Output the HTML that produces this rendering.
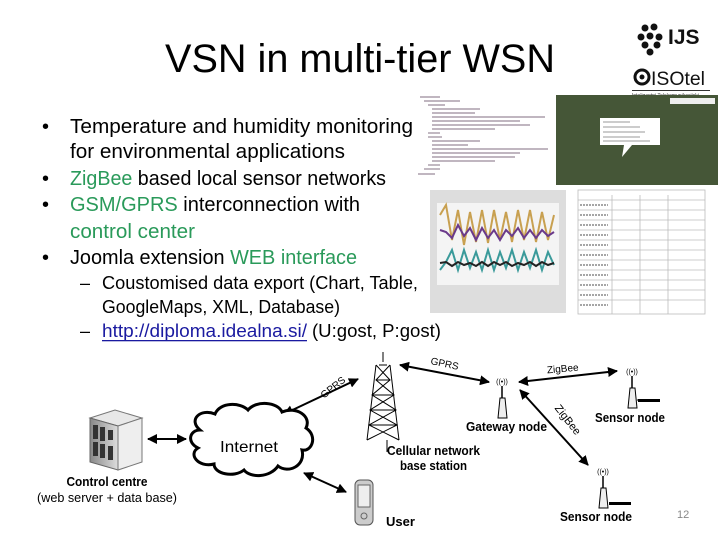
<!DOCTYPE html>
<html><head><meta charset="utf-8"><style>
html,body{margin:0;padding:0;background:#fff;}
svg{display:block;}
text{font-family:"Liberation Sans",sans-serif;}
</style></head><body>
<svg width="720" height="540" viewBox="0 0 720 540" xmlns="http://www.w3.org/2000/svg">
<defs>
<marker id="ah" viewBox="0 0 10 10" refX="9" refY="5" markerWidth="5" markerHeight="5" orient="auto-start-reverse"><path d="M0,0 L10,5 L0,10 z" fill="#000"/></marker>
<linearGradient id="srv" x1="0" x2="1"><stop offset="0" stop-color="#888"/><stop offset="1" stop-color="#ddd"/></linearGradient>
</defs>
<rect width="720" height="540" fill="#fff"/>
<!-- title -->
<text x="165" y="72" font-size="40" textLength="390" lengthAdjust="spacingAndGlyphs" fill="#000">VSN in multi-tier WSN</text>
<!-- logos -->
<g fill="#111">
<circle cx="645" cy="28" r="3.5"/><circle cx="654" cy="27" r="3.5"/>
<circle cx="641" cy="37" r="3.5"/><circle cx="650" cy="36" r="3.5"/><circle cx="659" cy="37" r="3.5"/>
<circle cx="645" cy="45" r="3.5"/><circle cx="657" cy="45" r="3.5"/><circle cx="650" cy="52" r="3.5"/>
</g>
<text x="668" y="44" font-size="21" font-weight="bold" fill="#111">IJS</text>
<circle cx="642" cy="77" r="7" fill="none" stroke="#111" stroke-width="3"/><circle cx="642" cy="77" r="2.5" fill="#111"/>
<text x="651" y="85" font-size="19" fill="#111" textLength="54" lengthAdjust="spacingAndGlyphs">ISOtel</text>
<rect x="632" y="90" width="78" height="1" fill="#333"/>
<text x="632" y="97" font-size="5" fill="#333">Inteligentni Telekomunikacijski</text>
<!-- bullets -->
<g font-size="20" fill="#000">
<text x="42" y="133">•</text><text x="42" y="185">•</text><text x="42" y="211">•</text><text x="42" y="264">•</text>
<text x="70" y="133" textLength="343" lengthAdjust="spacingAndGlyphs">Temperature and humidity monitoring</text>
<text x="70" y="158" textLength="275" lengthAdjust="spacingAndGlyphs">for environmental applications</text>
<text x="70" y="185" textLength="316" lengthAdjust="spacingAndGlyphs"><tspan fill="#2a9a5a">ZigBee</tspan> based local sensor networks</text>
<text x="70" y="211" textLength="290" lengthAdjust="spacingAndGlyphs"><tspan fill="#2a9a5a">GSM/GPRS</tspan> interconnection with</text>
<text x="70" y="238" textLength="125" lengthAdjust="spacingAndGlyphs" fill="#2a9a5a">control center</text>
<text x="70" y="264" textLength="287" lengthAdjust="spacingAndGlyphs">Joomla extension <tspan fill="#2a9a5a">WEB interface</tspan></text>
</g>
<g font-size="18" fill="#000">
<text x="80" y="289">–</text><text x="80" y="337">–</text>
<text x="102" y="289" textLength="316" lengthAdjust="spacingAndGlyphs">Coustomised data export (Chart, Table,</text>
<text x="102" y="313" textLength="238" lengthAdjust="spacingAndGlyphs">GoogleMaps, XML, Database)</text>
<text x="102" y="337" textLength="205" lengthAdjust="spacingAndGlyphs" fill="#1a1aa0">http://diploma.idealna.si/</text>
<rect x="102" y="340" width="205" height="1.3" fill="#1a1aa0"/>
<text x="312" y="337" textLength="129" lengthAdjust="spacingAndGlyphs">(U:gost, P:gost)</text>
</g>
<!-- XML image -->
<g stroke="#9a8a9a" stroke-width="1.2">
<line x1="420" y1="97" x2="440" y2="97"/><line x1="424" y1="101" x2="460" y2="101"/><line x1="428" y1="105" x2="445" y2="105"/>
<line x1="432" y1="109" x2="480" y2="109"/><line x1="432" y1="113" x2="475" y2="113"/><line x1="432" y1="117" x2="545" y2="117"/>
<line x1="432" y1="121" x2="520" y2="121"/><line x1="432" y1="125" x2="530" y2="125"/><line x1="432" y1="129" x2="495" y2="129"/>
<line x1="428" y1="133" x2="440" y2="133"/><line x1="428" y1="137" x2="442" y2="137"/><line x1="432" y1="141" x2="480" y2="141"/>
<line x1="432" y1="145" x2="468" y2="145"/><line x1="432" y1="149" x2="548" y2="149"/><line x1="432" y1="153" x2="520" y2="153"/>
<line x1="432" y1="157" x2="515" y2="157"/><line x1="432" y1="161" x2="495" y2="161"/><line x1="428" y1="165" x2="440" y2="165"/>
<line x1="424" y1="169" x2="440" y2="169"/><line x1="418" y1="174" x2="435" y2="174"/>
</g>
<!-- map -->
<rect x="556" y="95" width="162" height="90" fill="#4d5e3c"/>
<rect x="556" y="95" width="162" height="90" fill="#3a4a30" opacity="0.4"/>
<path d="M600,118 h60 v27 h-28 l-10,12 l2,-12 h-24 z" fill="#fff"/>
<g stroke="#999" stroke-width="1"><line x1="603" y1="122" x2="630" y2="122"/><line x1="603" y1="127" x2="640" y2="127"/><line x1="603" y1="132" x2="645" y2="132"/><line x1="603" y1="137" x2="640" y2="137"/><line x1="603" y1="141" x2="650" y2="141"/></g>
<rect x="670" y="98" width="45" height="6" fill="#eee"/>
<!-- chart -->
<rect x="430" y="190" width="136" height="123" fill="#ddd"/>
<rect x="437" y="203" width="122" height="82" fill="#f4f4f4"/>
<polyline fill="none" stroke="#c8a050" stroke-width="2" points="440,215 446,205 452,240 458,210 464,245 470,212 476,242 482,210 488,243 494,210 500,240 506,212 512,242 518,210 524,240 530,210 536,242 542,212 548,240 554,215"/>
<polyline fill="none" stroke="#6a3a8a" stroke-width="2" points="440,230 446,232 452,238 458,225 464,236 470,228 476,240 482,228 488,238 494,230 500,240 506,230 512,236 518,228 524,238 530,230 536,238 542,230 548,236 554,232"/>
<polyline fill="none" stroke="#3a9a9a" stroke-width="2" points="440,270 446,262 452,250 458,270 464,250 470,268 476,252 482,270 488,250 494,270 500,252 506,268 512,250 518,270 524,252 530,268 536,250 542,270 548,252 554,265"/>
<polyline fill="none" stroke="#222" stroke-width="2" points="440,263 446,262 452,266 458,262 464,265 470,263 476,266 482,262 488,266 494,262 500,265 506,262 512,266 518,263 524,265 530,262 536,266 542,262 548,265 554,263"/>
<!-- table -->
<g stroke="#bbb" stroke-width="0.8">
<rect x="578" y="190" width="127" height="124" fill="#fff"/>
<line x1="578" y1="200" x2="705" y2="200"/><line x1="578" y1="210" x2="705" y2="210"/><line x1="578" y1="220" x2="705" y2="220"/>
<line x1="578" y1="230" x2="705" y2="230"/><line x1="578" y1="240" x2="705" y2="240"/><line x1="578" y1="250" x2="705" y2="250"/>
<line x1="578" y1="260" x2="705" y2="260"/><line x1="578" y1="270" x2="705" y2="270"/><line x1="578" y1="280" x2="705" y2="280"/>
<line x1="578" y1="290" x2="705" y2="290"/><line x1="578" y1="300" x2="705" y2="300"/>
<line x1="612" y1="195" x2="612" y2="314"/><line x1="640" y1="195" x2="640" y2="314"/><line x1="668" y1="195" x2="668" y2="314"/>
</g>
<g stroke="#888" stroke-width="1.5" stroke-dasharray="2 1">
<line x1="580" y1="205" x2="608" y2="205"/><line x1="580" y1="215" x2="608" y2="215"/><line x1="580" y1="225" x2="608" y2="225"/><line x1="580" y1="235" x2="608" y2="235"/><line x1="580" y1="245" x2="608" y2="245"/><line x1="580" y1="255" x2="608" y2="255"/><line x1="580" y1="265" x2="608" y2="265"/><line x1="580" y1="275" x2="608" y2="275"/><line x1="580" y1="285" x2="608" y2="285"/><line x1="580" y1="295" x2="608" y2="295"/><line x1="580" y1="305" x2="608" y2="305"/>
</g>
<!-- diagram: server -->
<polygon points="90,418 115,410 142,418 118,426" fill="#e8e8e8" stroke="#777"/>
<polygon points="90,418 118,426 118,470 90,462" fill="url(#srv)" stroke="#666"/>
<polygon points="118,426 142,418 142,462 118,470" fill="#eee" stroke="#777"/>
<g fill="#333"><rect x="93" y="425" width="5" height="14"/><rect x="100" y="427" width="5" height="14"/><rect x="108" y="430" width="5" height="10"/>
<rect x="93" y="442" width="5" height="14"/><rect x="100" y="444" width="5" height="14"/><rect x="108" y="446" width="5" height="14"/></g>
<text x="107" y="486" font-size="13" font-weight="bold" text-anchor="middle" textLength="81" lengthAdjust="spacingAndGlyphs">Control centre</text>
<text x="107" y="502" font-size="13" text-anchor="middle" textLength="140" lengthAdjust="spacingAndGlyphs">(web server + data base)</text>
<!-- arrows -->
<g stroke="#000" stroke-width="2" fill="none" marker-start="url(#ah)" marker-end="url(#ah)">
<line x1="148" y1="439" x2="186" y2="439"/>
<line x1="284" y1="414" x2="358" y2="379"/>
<line x1="304" y1="473" x2="346" y2="492"/>
<line x1="400" y1="365" x2="489" y2="382"/>
<line x1="519" y1="382" x2="617" y2="371"/>
<line x1="520" y1="390" x2="588" y2="465"/>
</g>
<!-- cloud -->
<path d="M200,430 C188,420 200,408 215,414 C220,402 240,402 248,410 C256,400 278,402 282,412 C296,406 312,416 306,428 C318,436 312,452 302,450 C306,466 288,474 278,466 C270,478 250,478 244,470 C234,478 214,474 214,464 C198,468 188,454 198,448 C186,442 190,430 200,430 Z" fill="#fff" stroke="#000" stroke-width="3"/>
<text x="249" y="452" font-size="16" text-anchor="middle" textLength="58" lengthAdjust="spacingAndGlyphs">Internet</text>
<text transform="translate(335,390) rotate(-38)" font-size="10" text-anchor="middle">GPRS</text>
<!-- tower -->
<g stroke="#000" stroke-width="1" fill="none">
<line x1="383" y1="352" x2="383" y2="362"/>
<polyline points="376,365 367,440"/><polyline points="390,365 399,440"/>
<line x1="379" y1="365" x2="387" y2="365"/>
<path d="M376,365 L390,380 L372,395 L396,410 L369,425 L399,440 M390,365 L376,380 L394,395 L370,410 L397,425 L367,440"/>
<line x1="376" y1="380" x2="390" y2="380"/><line x1="372" y1="395" x2="394" y2="395"/><line x1="370" y1="410" x2="396" y2="410"/><line x1="369" y1="425" x2="397" y2="425"/>
<line x1="387" y1="440" x2="387" y2="452"/>
</g>
<text x="387" y="455" font-size="13" font-weight="bold" textLength="93" lengthAdjust="spacingAndGlyphs">Cellular network</text>
<text x="400" y="470" font-size="13" font-weight="bold" textLength="67" lengthAdjust="spacingAndGlyphs">base station</text>
<text transform="translate(444,367) rotate(12)" font-size="10" text-anchor="middle">GPRS</text>
<!-- phone -->
<rect x="355" y="480" width="18" height="45" rx="5" fill="#ccc" stroke="#555"/>
<rect x="358" y="485" width="12" height="22" fill="#eee" stroke="#666"/>
<circle cx="364" cy="516" r="3" fill="none" stroke="#666"/>
<text x="386" y="526" font-size="13" font-weight="bold">User</text>
<!-- nodes -->
<g id="node">
<text x="502" y="384" font-size="7" text-anchor="middle">((•))</text>
<line x1="502" y1="386" x2="502" y2="400" stroke="#000" stroke-width="1.5"/>
<path d="M498,418 L500,398 L505,398 L507,418 Z" fill="#eee" stroke="#000"/>
</g>
<text x="466" y="431" font-size="13" font-weight="bold" textLength="81" lengthAdjust="spacingAndGlyphs">Gateway node</text>
<text transform="translate(563,372) rotate(-5)" font-size="10" text-anchor="middle">ZigBee</text>
<text transform="translate(565,422) rotate(52)" font-size="11" text-anchor="middle">ZigBee</text>
<g transform="translate(130,-10)">
<text x="502" y="384" font-size="7" text-anchor="middle">((•))</text>
<line x1="502" y1="386" x2="502" y2="400" stroke="#000" stroke-width="1.5"/>
<path d="M498,418 L500,398 L505,398 L507,418 Z" fill="#eee" stroke="#000"/>
<rect x="508" y="409" width="22" height="3" fill="#000"/><line x1="507" y1="410" x2="510" y2="410" stroke="#000"/>
</g>
<text x="595" y="422" font-size="13" font-weight="bold" textLength="70" lengthAdjust="spacingAndGlyphs">Sensor node</text>
<g transform="translate(101,90)">
<text x="502" y="384" font-size="7" text-anchor="middle">((•))</text>
<line x1="502" y1="386" x2="502" y2="400" stroke="#000" stroke-width="1.5"/>
<path d="M498,418 L500,398 L505,398 L507,418 Z" fill="#eee" stroke="#000"/>
<rect x="508" y="412" width="22" height="3" fill="#000"/>
</g>
<text x="560" y="521" font-size="13" font-weight="bold" textLength="72" lengthAdjust="spacingAndGlyphs">Sensor node</text>
<text x="677" y="518" font-size="11" fill="#888">12</text>
</svg>
</body></html>
